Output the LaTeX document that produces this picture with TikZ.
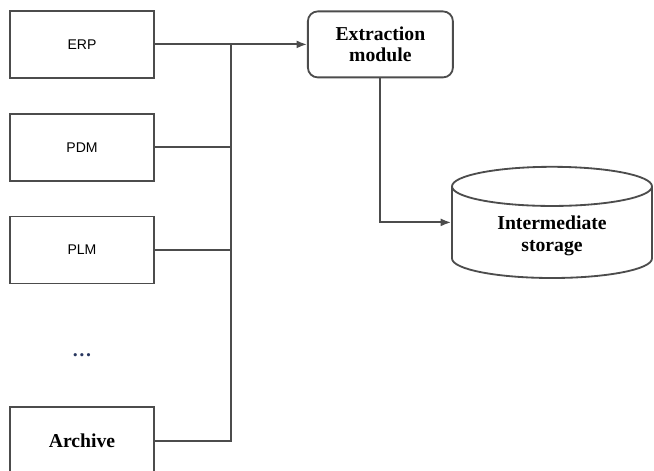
\documentclass[tikz,border=0pt]{standalone}
\usepackage{fontspec}
\setmainfont{Liberation Serif}
\setsansfont{Liberation Sans}
\usetikzlibrary{shapes, arrows.meta, positioning, calc}
\colorlet{linegray}{black!70}
\definecolor{dotblue}{RGB}{40,55,95}

\begin{document}
\begin{tikzpicture}[node distance=0.85cm and 1cm,
		srcbox/.style={rectangle, draw=linegray, line width=1.3pt, minimum width=3.6cm, minimum height=1.675cm},
		modbox/.style={rectangle, rounded corners=7pt, draw=linegray, line width=1.3pt, minimum width=3.625cm, minimum height=1.65cm, align=center, font=\bfseries\fontsize{14}{15}\selectfont},
		store/.style={cylinder, shape border rotate=90, aspect=0.33, draw=linegray, line width=1.3pt, minimum width=5cm, minimum height=2.78cm, align=center, font=\bfseries\fontsize{14}{15.5}\selectfont},
		link/.style={draw=linegray, line width=1.3pt}]
		\useasboundingbox (0,0) rectangle (16.35,-11.75);
		\node[srcbox] (erp) at (2.05,-1.11) {\sffamily\fontsize{10}{12}\selectfont ERP};
		\node[srcbox, below=of erp] (pdm) {\sffamily\fontsize{10}{12}\selectfont PDM};
		\node[srcbox, below=of pdm] (plm) {\sffamily\fontsize{10}{12}\selectfont PLM};
		\node[text=dotblue, font=\bfseries\fontsize{14}{15}\selectfont] (dots) at (2.05,-8.87) {\dots};
		\node[srcbox, below=3.05cm of plm, font=\bfseries\fontsize{14}{15}\selectfont] (arch) {Archive};
		\node[modbox] (extr) at (9.51,-1.11) {Extraction\\module};
		\node[store, anchor=shape center] (stor) at (13.8,-5.56) {Intermediate\\storage};
		\coordinate (bus) at (5.78,-1.11);
		\draw[link, -{Latex[length=2.6mm, width=2mm]}] (erp) -- (extr);
		\foreach \src in {pdm,plm}
			\draw[link] (\src) -- (\src -| bus);
		\draw[link] (arch) -| (bus);
		\draw[link, -{Latex[length=2.6mm, width=2mm]}] (extr) |- (stor.shape center -| stor.west);
	\end{tikzpicture}
\end{document}
